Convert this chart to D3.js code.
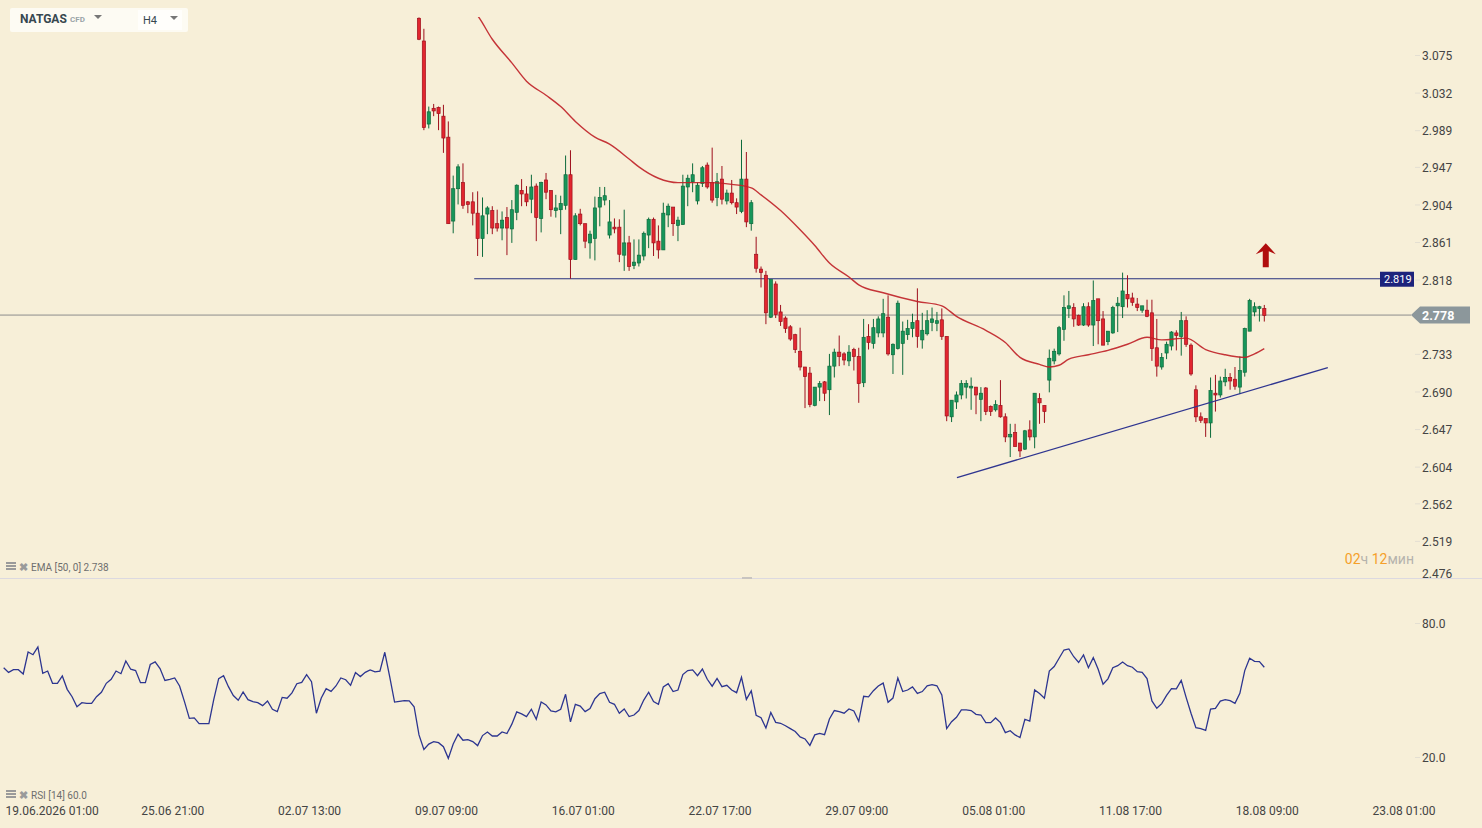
<!DOCTYPE html>
<html><head><meta charset="utf-8">
<script src="https://cdn.jsdelivr.net/npm/d3@7/dist/d3.min.js"></script>
<style>
html,body{margin:0;padding:0;background:#f7efd8;}
svg{display:block;font-family:Roboto,"Noto Sans",sans-serif;}
</style></head>
<body><svg id="c" width="1482" height="828"></svg>
<script>
// ---------- DATA ----------
const symbol = "NATGAS", symbolType = "CFD", timeframe = "H4";
const openP  = [3.117,3.091,2.996,3.014,3.015,3.005,2.981,2.885,2.922,2.929,2.907,2.907,2.894,2.865,2.893,2.897,2.882,2.877,2.889,2.876,2.895,2.920,2.916,2.910,2.925,2.888,2.932,2.920,2.897,2.898,2.903,2.938,2.841,2.893,2.882,2.860,2.865,2.901,2.909,2.869,2.878,2.878,2.846,2.860,2.834,2.837,2.845,2.869,2.887,2.862,2.852,2.892,2.901,2.880,2.881,2.924,2.930,2.908,2.928,2.949,2.929,2.912,2.933,2.908,2.917,2.906,2.896,2.933,2.882,2.847,2.830,2.823,2.775,2.813,2.781,2.774,2.764,2.755,2.736,2.718,2.711,2.674,2.695,2.701,2.692,2.719,2.735,2.733,2.725,2.738,2.730,2.700,2.753,2.745,2.757,2.757,2.775,2.732,2.739,2.745,2.755,2.762,2.771,2.749,2.756,2.769,2.768,2.772,2.753,2.661,2.678,2.686,2.695,2.694,2.695,2.681,2.694,2.673,2.669,2.674,2.661,2.638,2.643,2.631,2.624,2.646,2.638,2.682,2.674,2.703,2.725,2.733,2.761,2.785,2.786,2.777,2.766,2.787,2.766,2.796,2.773,2.747,2.757,2.788,2.787,2.801,2.797,2.790,2.783,2.783,2.780,2.740,2.718,2.734,2.742,2.757,2.753,2.771,2.743,2.692,2.661,2.659,2.654,2.688,2.686,2.701,2.706,2.704,2.695,2.712,2.759,2.781,2.785,2.785];
const highP  = [3.118,3.105,3.016,3.019,3.016,3.018,2.999,2.937,2.950,2.951,2.908,2.918,2.919,2.912,2.902,2.902,2.898,2.896,2.901,2.909,2.927,2.933,2.925,2.938,2.928,2.930,2.940,2.920,2.915,2.914,2.960,2.966,2.894,2.899,2.882,2.874,2.913,2.924,2.924,2.909,2.888,2.887,2.898,2.868,2.864,2.864,2.873,2.889,2.889,2.880,2.906,2.905,2.901,2.890,2.938,2.938,2.951,2.929,2.948,2.952,2.969,2.940,2.948,2.921,2.932,2.911,2.978,2.964,2.909,2.867,2.833,2.828,2.818,2.816,2.789,2.776,2.766,2.756,2.763,2.718,2.718,2.695,2.702,2.702,2.733,2.739,2.754,2.735,2.743,2.740,2.740,2.773,2.767,2.773,2.776,2.796,2.800,2.745,2.794,2.770,2.772,2.779,2.808,2.780,2.783,2.786,2.781,2.785,2.753,2.680,2.690,2.703,2.703,2.706,2.695,2.695,2.695,2.674,2.680,2.703,2.665,2.653,2.653,2.631,2.646,2.657,2.688,2.688,2.674,2.738,2.739,2.765,2.800,2.805,2.791,2.778,2.791,2.792,2.817,2.796,2.782,2.759,2.788,2.798,2.826,2.823,2.803,2.797,2.788,2.795,2.795,2.773,2.734,2.747,2.759,2.760,2.781,2.776,2.745,2.697,2.666,2.659,2.706,2.709,2.707,2.716,2.711,2.718,2.730,2.763,2.796,2.792,2.788,2.789];
const lowP   = [3.092,2.989,2.991,3.005,2.989,2.963,2.882,2.871,2.904,2.899,2.894,2.880,2.845,2.844,2.870,2.870,2.873,2.863,2.846,2.860,2.886,2.902,2.902,2.894,2.862,2.872,2.910,2.890,2.889,2.870,2.898,2.819,2.841,2.880,2.854,2.842,2.840,2.879,2.903,2.865,2.871,2.838,2.828,2.828,2.830,2.833,2.840,2.854,2.845,2.842,2.852,2.878,2.868,2.862,2.881,2.902,2.918,2.904,2.924,2.922,2.906,2.902,2.904,2.904,2.904,2.893,2.894,2.878,2.874,2.826,2.809,2.767,2.774,2.774,2.765,2.757,2.748,2.734,2.714,2.671,2.672,2.673,2.679,2.679,2.663,2.706,2.719,2.720,2.719,2.714,2.677,2.695,2.738,2.739,2.752,2.752,2.731,2.710,2.738,2.709,2.749,2.752,2.740,2.739,2.754,2.759,2.759,2.749,2.656,2.655,2.670,2.681,2.682,2.669,2.664,2.656,2.663,2.662,2.667,2.660,2.632,2.615,2.627,2.615,2.623,2.634,2.625,2.653,2.654,2.689,2.721,2.731,2.748,2.774,2.764,2.765,2.765,2.764,2.742,2.744,2.743,2.743,2.756,2.758,2.774,2.786,2.788,2.782,2.780,2.775,2.725,2.707,2.715,2.727,2.737,2.737,2.731,2.741,2.708,2.655,2.654,2.638,2.637,2.667,2.683,2.696,2.692,2.692,2.687,2.707,2.759,2.776,2.770,2.770];
const closeP = [3.093,2.992,3.010,3.011,3.008,2.980,2.882,2.922,2.947,2.903,2.904,2.894,2.865,2.891,2.900,2.877,2.877,2.886,2.877,2.898,2.926,2.916,2.907,2.924,2.889,2.929,2.918,2.898,2.900,2.905,2.938,2.841,2.891,2.882,2.862,2.870,2.900,2.912,2.914,2.884,2.876,2.847,2.860,2.833,2.838,2.846,2.871,2.887,2.860,2.852,2.894,2.902,2.882,2.886,2.925,2.934,2.938,2.926,2.946,2.924,2.909,2.930,2.910,2.917,2.906,2.901,2.933,2.884,2.906,2.831,2.826,2.780,2.818,2.778,2.770,2.762,2.750,2.738,2.718,2.707,2.675,2.695,2.699,2.688,2.719,2.735,2.730,2.726,2.735,2.730,2.699,2.752,2.746,2.763,2.773,2.779,2.733,2.744,2.791,2.759,2.762,2.769,2.753,2.760,2.771,2.773,2.771,2.753,2.662,2.680,2.686,2.699,2.699,2.696,2.686,2.688,2.667,2.667,2.675,2.661,2.638,2.641,2.627,2.622,2.645,2.638,2.688,2.677,2.667,2.728,2.736,2.763,2.786,2.788,2.773,2.766,2.787,2.766,2.794,2.771,2.743,2.759,2.786,2.791,2.805,2.796,2.792,2.786,2.788,2.776,2.739,2.719,2.729,2.744,2.758,2.754,2.771,2.744,2.710,2.661,2.657,2.654,2.691,2.686,2.702,2.706,2.702,2.696,2.714,2.762,2.794,2.787,2.787,2.777];

const emaBars = [10,12,15,19,22,26,29,32,36,39,43,45,49,53,60,64,68,70,74,78,81,84,88,90,95,102,107,110,116,120,123,127,129,131,133,137,141,145,149,152,157,161,165,169,171,173];
const emaVals = [3.132,3.120,3.093,3.066,3.045,3.029,3.016,2.999,2.981,2.973,2.956,2.947,2.934,2.929,2.929,2.927,2.923,2.915,2.897,2.875,2.857,2.837,2.821,2.812,2.803,2.793,2.788,2.776,2.760,2.746,2.729,2.721,2.718,2.720,2.727,2.732,2.737,2.744,2.752,2.749,2.751,2.738,2.732,2.729,2.733,2.739];

const rsiFirstBar = -85;
const rsiVals = [60.0,57.9,59.1,59.1,57.2,67.0,65.8,69.3,57.5,58.5,
53.0,53.0,56.3,50.3,47.0,42.5,44.3,44.0,44.0,47.0,
49.0,53.0,54.8,58.5,57.3,63.0,59.3,58.7,53.3,53.3,
61.4,62.6,59.6,54.3,54.8,55.4,51.8,44.8,37.3,37.5,
34.9,34.9,34.9,45.8,55.1,56.4,51.5,47.5,45.4,49.1,
45.7,44.8,44.3,43.0,45.1,41.4,40.3,46.7,46.3,48.7,
52.8,53.4,56.9,53.7,39.6,46.4,50.6,49.4,51.8,55.4,
54.6,52.1,57.8,56.0,57.9,59.0,58.1,58.4,66.9,56.0,
44.6,44.9,45.2,45.1,42.5,29.9,
23.4,25.8,26.9,26.4,24.6,19.4,25.8,30.2,27.5,27.8,
26.9,25.1,29.6,31.2,29.4,29.4,31.2,30.5,34.7,40.2,
39.3,38.1,41.4,36.9,44.6,43.3,40.6,40.2,41.4,48.1,
35.7,43.6,42.8,40.3,41.7,46.1,48.4,49.0,44.5,43.6,
39.6,41.5,38.1,38.8,40.8,45.5,49.0,44.8,43.6,51.4,
52.8,49.3,50.0,56.9,58.7,59.0,56.4,59.4,54.8,51.7,
55.2,51.5,52.1,50.0,48.8,55.7,45.8,49.6,38.7,37.6,
33.0,39.9,35.5,35.1,34.0,32.7,31.4,29.0,28.1,25.2,
29.9,30.6,30.0,37.0,40.8,40.3,39.6,
41.5,40.6,36.0,47.2,46.9,49.7,51.8,53.1,44.5,46.4,
55.4,49.3,50.0,51.4,48.5,49.3,51.9,52.4,51.9,47.8,
32.7,35.8,37.8,41.1,41.1,40.8,39.1,38.8,35.4,35.4,
37.5,35.4,30.9,31.8,29.9,28.7,36.9,36.1,50.0,48.4,
46.3,58.5,60.5,64.2,67.9,68.4,64.9,62.3,65.7,60.0,
64.5,59.3,52.6,55.0,60.0,60.9,62.5,60.9,60.2,58.2,
57.9,55.1,45.1,41.8,43.9,47.6,50.6,50.5,54.3,46.7,
39.6,33.1,32.7,31.9,41.5,41.8,45.0,45.7,45.2,44.0,
48.5,58.7,64.2,62.8,62.7,60.2];

const priceTicks = [3.075,3.032,2.989,2.947,2.904,2.861,2.818,2.776,2.733,2.690,2.647,2.604,2.562,2.519,2.476];
const rsiTicks = [80,20];
const dateBars = [-79,-51,-23,5,33,61,89,117,145,173,201];
const dateLabels = ["19.06.2026 01:00","25.06 21:00","02.07 13:00","09.07 09:00","16.07 01:00","22.07 17:00","29.07 09:00","05.08 01:00","11.08 17:00","18.08 09:00","23.08 01:00"];

const resistance = {bar1: 11.3, bar2: 196.7, price: 2.819};
const support = {bar1: 110.1, price1: 2.5915, bar2: 186.0, price2: 2.7173};
const lastPrice = 2.778;
const arrowMark = {bar: 173.3, price: 2.846};
const emaLegend = "EMA [50, 0] 2.738";
const rsiLegend = "RSI [14] 60.0";
const countdown = [["02","o"],["ч ","g"],["12","o"],["мин","g"]];

// ---------- SCALES ----------
const svg = d3.select("#c");
const x = d3.scaleLinear().domain([0, 173]).range([419, 1264.3]);
const y = d3.scaleLinear().domain([2.476, 3.075]).range([578.5, 55]);
const yr = d3.scaleLinear().domain([20, 80]).range([757, 623]);

const RED_F = "#e2262f", RED_S = "#9e0f1c", GRN_F = "#17965a", GRN_S = "#0c6a3b";

svg.append("rect").attr("width",1482).attr("height",828).attr("fill","#f7efd8");

const defs = svg.append("defs");
defs.append("clipPath").attr("id","clipMain").append("rect").attr("x",0).attr("y",17).attr("width",1411).attr("height",561);
defs.append("clipPath").attr("id","clipRsi").append("rect").attr("x",0).attr("y",579).attr("width",1411).attr("height",221);

// divider between panes
svg.append("line").attr("x1",0).attr("x2",1482).attr("y1",578.5).attr("y2",578.5).attr("stroke","#dcd9e0").attr("stroke-width",1);
svg.append("rect").attr("x",742).attr("y",577).attr("width",10).attr("height",2).attr("fill","#c8c4c0");

const main = svg.append("g").attr("clip-path","url(#clipMain)");

// current price line
main.append("line").attr("x1",0).attr("x2",1411).attr("y1",y(lastPrice)+0.5).attr("y2",y(lastPrice)+0.5).attr("stroke","#8d8d8d").attr("stroke-width",1);

// resistance line
main.append("line").attr("x1",x(resistance.bar1)).attr("x2",x(resistance.bar2))
  .attr("y1",y(resistance.price)).attr("y2",y(resistance.price)).attr("stroke","#27307e").attr("stroke-width",1.1);

// candles
const idx = d3.range(closeP.length);
const cg = main.append("g");
idx.forEach(i => {
  const up = closeP[i] >= openP[i];
  const cx = x(i);
  cg.append("line").attr("x1",cx).attr("x2",cx).attr("y1",y(highP[i])).attr("y2",y(lowP[i]))
    .attr("stroke", up ? GRN_S : RED_S).attr("stroke-width",1);
  const top = y(Math.max(openP[i], closeP[i])), bot = y(Math.min(openP[i], closeP[i]));
  cg.append("rect").attr("x",cx-1.6).attr("y",top).attr("width",3.2).attr("height",Math.max(1,bot-top))
    .attr("fill", up ? GRN_F : RED_F).attr("stroke", up ? GRN_S : RED_S).attr("stroke-width",0.7);
});

// EMA
main.append("path").datum(emaBars.map((b,k)=>[b, emaVals[k]]))
  .attr("d", d3.line().x(d=>x(d[0])).y(d=>y(d[1])).curve(d3.curveMonotoneX))
  .attr("fill","none").attr("stroke","#bf1f26").attr("stroke-width",1.4).attr("opacity",0.9);

// support trend line
main.append("line").attr("x1",x(support.bar1)).attr("y1",y(support.price1))
  .attr("x2",x(support.bar2)).attr("y2",y(support.price2)).attr("stroke","#2f3590").attr("stroke-width",1.3);

// up arrow annotation
const ax = x(arrowMark.bar), ay = y(arrowMark.price);
svg.append("path").attr("transform",`translate(${ax},${ay})`)
  .attr("d","M0,-12 L10,-1 L3,-4 L3,12 L-3,12 L-3,-4 L-10,-1 Z").attr("fill","#b00d0d");

// price axis
const pa = svg.append("g").attr("transform","translate(1415,0)")
  .call(d3.axisRight(y).tickValues(priceTicks).tickFormat(d3.format(".3f")).tickSize(5).tickPadding(2));
pa.select(".domain").remove();
pa.selectAll(".tick line").attr("stroke","#e4dfd2");
pa.selectAll(".tick text").attr("fill","#444").attr("font-size",12).attr("font-family","Roboto,sans-serif")
  .attr("dy", d => d === 2.476 ? "-0.1em" : "0.4em");
pa.selectAll(".tick").filter(d => d === 2.476).select("line").remove();

// resistance label
const ry = y(resistance.price);
svg.append("rect").attr("x",1380).attr("y",ry-7).attr("width",34).attr("height",15).attr("fill","#1c237c");
svg.append("text").attr("x",1384).attr("y",ry+4.5).attr("fill","#fff").attr("font-size",11).text(resistance.price.toFixed(3));

// last price label
const ly = y(lastPrice) + 0.5;
svg.append("path").attr("d",`M1411,${ly} L1420,${ly-8.5} L1470,${ly-8.5} L1470,${ly+8.5} L1420,${ly+8.5} Z`).attr("fill","#8c979b");
svg.append("text").attr("x",1422).attr("y",ly+5).attr("fill","#fff").attr("font-size",12.5).attr("font-weight","bold").text(lastPrice.toFixed(3));

// countdown
const cd = svg.append("text").attr("x",1414).attr("y",564).attr("text-anchor","end").attr("font-size",14);
countdown.forEach(([t,c]) => cd.append("tspan").attr("fill", c==="o" ? "#f5a02a" : "#b5b3ad").text(t));

// legends
function legend(yy, label){
  const g = svg.append("g").attr("transform",`translate(6,${yy})`);
  g.append("rect").attr("x",0).attr("y",-5).attr("width",10).attr("height",2).attr("fill","#9a9a9a");
  g.append("rect").attr("x",0).attr("y",-2).attr("width",10).attr("height",2).attr("fill","#9a9a9a");
  g.append("rect").attr("x",0).attr("y",1).attr("width",10).attr("height",2).attr("fill","#9a9a9a");
  g.append("text").attr("x",13).attr("y",3.5).attr("fill","#9a9a9a").attr("font-size",11).attr("font-weight","bold").text("✖");
  g.append("text").attr("x",25).attr("y",4).attr("fill","#6e6e6e").attr("font-size",10).text(label);
}
legend(567, emaLegend);
legend(795, rsiLegend);

// RSI
const rg = svg.append("g").attr("clip-path","url(#clipRsi)");
rg.append("path").datum(rsiVals.map((v,k)=>[rsiFirstBar+k, v]))
  .attr("d", d3.line().x(d=>x(d[0])).y(d=>yr(d[1])))
  .attr("fill","none").attr("stroke","#2c3590").attr("stroke-width",1.3);
const ra = svg.append("g").attr("transform","translate(1415,0)")
  .call(d3.axisRight(yr).tickValues(rsiTicks).tickFormat(d3.format(".1f")).tickSize(5).tickPadding(2));
ra.select(".domain").remove();
ra.selectAll(".tick line").attr("stroke","#e4dfd2");
ra.selectAll(".tick text").attr("fill","#444").attr("font-size",12).attr("font-family","Roboto,sans-serif").attr("dy","0.4em");

// date axis
const da = svg.append("g").attr("transform","translate(0,803)")
  .call(d3.axisBottom(x).tickValues(dateBars).tickFormat((d,i)=>dateLabels[i]).tickSize(0).tickPadding(3));
da.select(".domain").remove();
da.selectAll(".tick text").attr("fill","#444").attr("font-size",12).attr("font-family","Roboto,sans-serif").attr("dx",2.5);
da.selectAll(".tick").filter((d,i)=>i===0).select("text")
  .attr("text-anchor","start").attr("dx",0).attr("x", 5 - x(dateBars[0]));

// header
const hd = svg.append("g");
hd.append("rect").attr("x",10).attr("y",8).attr("width",178).attr("height",24).attr("rx",2).attr("fill","#fdfbf3");
hd.append("rect").attr("x",138).attr("y",10).attr("width",44).attr("height",20).attr("fill","#fffefb");
hd.append("text").attr("x",20).attr("y",23).attr("fill","#37474f").attr("font-size",12).attr("font-weight","bold").text(symbol);
hd.append("text").attr("x",70).attr("y",22).attr("fill","#9aa4a8").attr("font-size",8).attr("font-weight","bold").text(symbolType);
hd.append("path").attr("d","M94,15 L102,15 L98,19 Z").attr("fill","#777");
hd.append("text").attr("x",143).attr("y",24).attr("fill","#37474f").attr("font-size",11).text(timeframe);
hd.append("path").attr("d","M170,16 L178,16 L174,20 Z").attr("fill","#777");
</script></body></html>
